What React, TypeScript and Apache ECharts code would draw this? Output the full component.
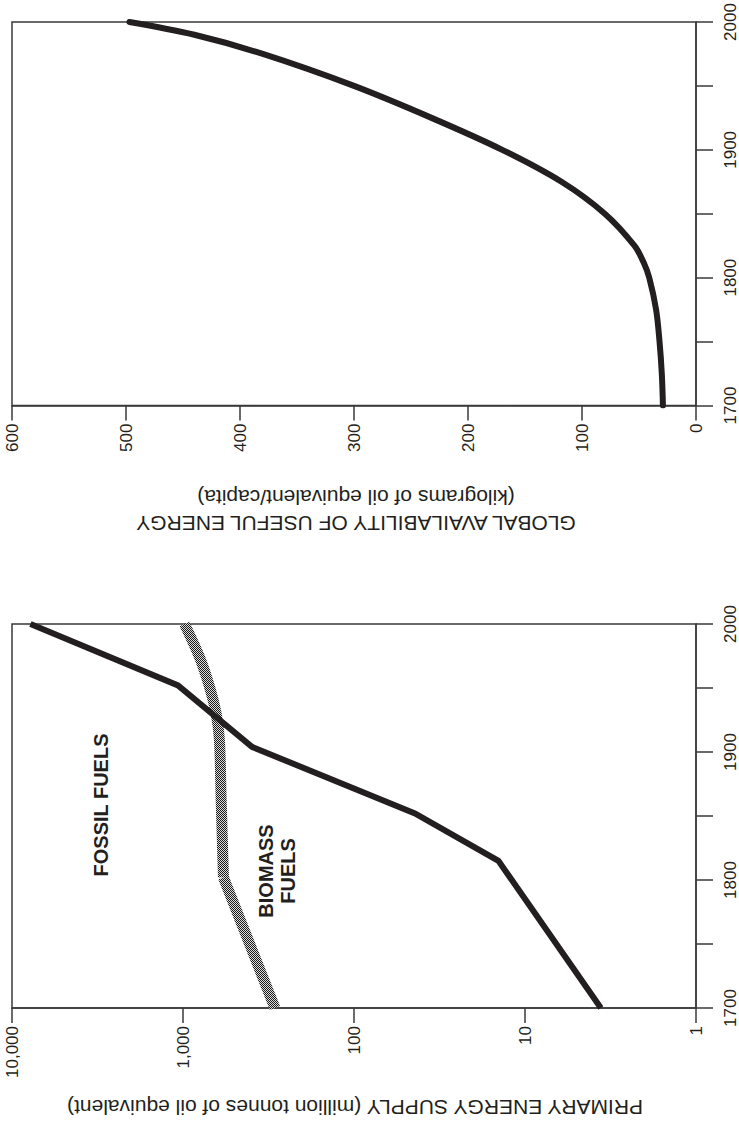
import React, { useEffect, useRef } from 'react';
import * as echarts from 'echarts';

// ---- Data ----
const usefulYears = [1700, 1725, 1750, 1775, 1800, 1812, 1825, 1850, 1875, 1900, 1925, 1950, 1975, 1990, 2000];
const usefulEnergy = [29, 30, 32, 35, 41, 46, 54, 80, 118, 170, 232, 300, 380, 440, 497];

const fossilYears = [1700, 1815, 1852, 1904, 1952, 2000];
const fossilFuels = [3.6, 14.3, 44, 395, 1070, 7800];

const biomassYearsEarly = [1700, 1802];
const biomassEarly = [290, 580];
const biomassYearsLate = [1802, 1862, 1909, 1930, 1951, 1974, 2000];
const biomassLate = [580, 598, 612, 640, 700, 800, 980];

const yearLabels = [1700, 1800, 1900, 2000];
const usefulTicks = [0, 100, 200, 300, 400, 500, 600];
const logTicks = [1, 10, 100, 1000, 10000];

const FONT = '"Liberation Sans", Arial, Helvetica, sans-serif';
const INK = '#231f20';
const AXIS = '#3a3a3a';

function makePattern(): HTMLCanvasElement {
  const c = document.createElement('canvas');
  c.width = 2;
  c.height = 2;
  const ctx = c.getContext('2d')!;
  ctx.fillStyle = '#dcdcdc';
  ctx.fillRect(0, 0, 2, 2);
  ctx.fillStyle = '#1a1a1a';
  ctx.fillRect(0, 0, 1, 1);
  ctx.fillRect(1, 1, 1, 1);
  return c;
}

export default function App() {
  const ref = useRef<HTMLDivElement>(null);

  useEffect(() => {
    if (!ref.current) return;
    const chart = echarts.init(ref.current, undefined, { renderer: 'svg' });
    const pattern = makePattern();

    const axisLineStyle = { color: AXIS, width: 1.5 };
    const labelBase = { color: INK, fontSize: 17, fontFamily: FONT };

    const yearAxis = (gridIndex: number) => ({
      type: 'value',
      gridIndex,
      position: 'right',
      min: 1700,
      max: 2000,
      interval: 50,
      axisLine: { show: true, lineStyle: axisLineStyle },
      axisTick: { show: true, length: 17, lineStyle: axisLineStyle },
      splitLine: { show: false },
      axisLabel: {
        ...labelBase,
        rotate: 90,
        margin: 26,
        formatter: (v: number) => (yearLabels.includes(v) ? String(v) : ''),
      },
    });

    const option: any = {
      animation: false,
      backgroundColor: '#ffffff',
      grid: [
        { left: 12, top: 22, width: 686, height: 383.5, show: true, borderColor: AXIS, borderWidth: 1.5, backgroundColor: 'transparent' },
        { left: 12, top: 624, width: 686, height: 384, show: true, borderColor: AXIS, borderWidth: 1.5, backgroundColor: 'transparent' },
      ],
      xAxis: [
        {
          type: 'value',
          gridIndex: 0,
          min: 0,
          max: 600,
          interval: 100,
          inverse: true,
          axisLine: { show: true, lineStyle: axisLineStyle },
          axisTick: { show: true, length: 15, lineStyle: axisLineStyle },
          splitLine: { show: false },
          axisLabel: {
            ...labelBase,
            rotate: 90,
            margin: 18,
            formatter: (v: number) => (usefulTicks.includes(v) ? String(v) : ''),
          },
        },
        {
          type: 'log',
          gridIndex: 1,
          logBase: 10,
          min: 1,
          max: 10000,
          inverse: true,
          axisLine: { show: true, lineStyle: axisLineStyle },
          axisTick: { show: true, length: 15, lineStyle: axisLineStyle },
          splitLine: { show: false },
          minorTick: { show: false },
          axisLabel: {
            ...labelBase,
            rotate: 90,
            margin: 18,
            formatter: (v: number) => {
              const r = Math.round(v);
              return logTicks.includes(r) ? r.toLocaleString('en-US') : '';
            },
          },
        },
      ],
      yAxis: [yearAxis(0), yearAxis(1)],
      series: [
        {
          name: 'Useful energy',
          type: 'line',
          xAxisIndex: 0,
          yAxisIndex: 0,
          smooth: 0.35,
          showSymbol: false,
          symbol: 'none',
          lineStyle: { color: INK, width: 6, cap: 'round' },
          data: usefulYears.map((y, i) => [usefulEnergy[i], y]),
        },
        {
          name: 'Biomass early',
          type: 'line',
          xAxisIndex: 1,
          yAxisIndex: 1,
          symbol: 'none',
          lineStyle: { color: { image: pattern, repeat: 'repeat' }, width: 11, cap: 'butt' },
          data: biomassYearsEarly.map((y, i) => [biomassEarly[i], y]),
        },
        {
          name: 'Biomass late',
          type: 'line',
          xAxisIndex: 1,
          yAxisIndex: 1,
          smooth: 0.3,
          symbol: 'none',
          lineStyle: { color: { image: pattern, repeat: 'repeat' }, width: 11, cap: 'butt' },
          data: biomassYearsLate.map((y, i) => [biomassLate[i], y]),
        },
        {
          name: 'Fossil fuels',
          type: 'line',
          xAxisIndex: 1,
          yAxisIndex: 1,
          symbol: 'none',
          lineStyle: { color: INK, width: 6, join: 'miter' },
          data: fossilYears.map((y, i) => [fossilFuels[i], y]),
        },
      ],
      graphic: [
        {
          type: 'text',
          x: 356,
          y: 510,
          rotation: Math.PI,
          style: {
            text: 'GLOBAL AVAILABILITY OF USEFUL ENERGY\n(kilograms of oil equivalent/capita)',
            font: `21px ${FONT}`,
            fill: INK,
            lineHeight: 26,
            textAlign: 'center',
            textVerticalAlign: 'middle',
            verticalAlign: 'middle',
          },
        },
        {
          type: 'text',
          x: 355,
          y: 1107,
          rotation: Math.PI,
          style: {
            text: 'PRIMARY ENERGY SUPPLY (million tonnes of oil equivalent)',
            font: `21px ${FONT}`,
            fill: INK,
            textAlign: 'center',
            textVerticalAlign: 'middle',
            verticalAlign: 'middle',
          },
        },
        {
          type: 'text',
          x: 101,
          y: 805,
          rotation: Math.PI / 2,
          style: {
            text: 'FOSSIL FUELS',
            font: `bold 20px ${FONT}`,
            fill: INK,
            textAlign: 'center',
            textVerticalAlign: 'middle',
            verticalAlign: 'middle',
          },
        },
        {
          type: 'text',
          x: 277,
          y: 871,
          rotation: Math.PI / 2,
          style: {
            text: 'BIOMASS\nFUELS',
            font: `bold 20px ${FONT}`,
            fill: INK,
            lineHeight: 22,
            textAlign: 'center',
            textVerticalAlign: 'middle',
            verticalAlign: 'middle',
          },
        },
      ],
    };

    chart.setOption(option);
    return () => chart.dispose();
  }, []);

  return (
    <div
      ref={ref}
      style={{ position: 'absolute', left: 0, top: 0, width: 739, height: 1134, background: '#fff' }}
    />
  );
}
